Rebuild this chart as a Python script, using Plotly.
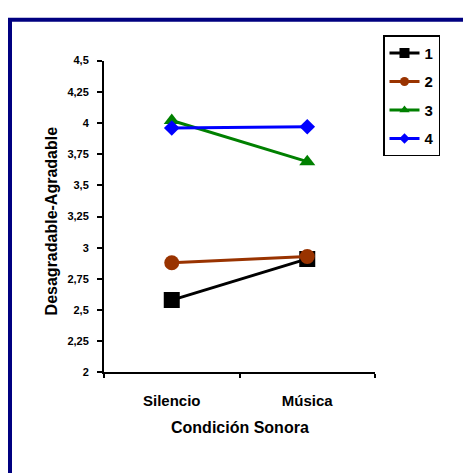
import plotly.graph_objects as go

W, H = 463, 473

categories = ["Silencio", "Música"]
series_names = ["1", "2", "3", "4"]
s1 = [2.58, 2.91]
s2 = [2.88, 2.93]
s3 = [4.02, 3.69]
s4 = [3.96, 3.97]
y_tickvals = [2, 2.25, 2.5, 2.75, 3, 3.25, 3.5, 3.75, 4, 4.25, 4.5]
y_ticktext = ["2", "2,25", "2,5", "2,75", "3", "3,25", "3,5", "3,75", "4", "4,25", "4,5"]

colors = ["#000000", "#993300", "#008000", "#0000FF"]
symbols = ["square", "circle", "triangle-up", "diamond"]
sizes = [16, 15, 14, 12]
legend_sizes = [10, 9, 9, 8]
values = [s1, s2, s3, s4]

FONT = "Liberation Sans, Arial, sans-serif"

fig = go.Figure()
for name, vals, c, sym, sz in zip(series_names, values, colors, symbols, sizes):
    fig.add_trace(go.Scatter(
        x=categories, y=vals, mode="lines+markers", name=name,
        line=dict(color=c, width=3),
        marker=dict(symbol=sym, size=sz, color=c),
        showlegend=False, hoverinfo="skip",
    ))
# legend entries (smaller markers like the original legend)
for name, c, sym, sz in zip(series_names, colors, symbols, legend_sizes):
    fig.add_trace(go.Scatter(
        x=[None], y=[None], mode="lines+markers", name=name,
        line=dict(color=c, width=3),
        marker=dict(symbol=sym, size=sz, color=c),
        legendgroup=name, showlegend=True,
    ))

def px(xp):
    return xp / W

def py(yp):
    return 1 - yp / H

fig.update_layout(
    width=W, height=H, autosize=False,
    margin=dict(l=0, r=0, t=0, b=0),
    paper_bgcolor="white", plot_bgcolor="white",
    font=dict(family=FONT, color="black"),
    xaxis=dict(
        type="category", range=[-0.5, 1.5],
        domain=[px(104), px(375)],
        showline=True, linecolor="black", linewidth=2,
        ticks="outside", tickson="boundaries", ticklen=4, tickwidth=2, tickcolor="black",
        ticklabelstandoff=14,
        showgrid=False, zeroline=False,
        tickfont=dict(family=FONT, size=15, color="black", weight="bold"),
        anchor="y",
    ),
    yaxis=dict(
        range=[2, 4.5], domain=[py(376), py(56)],
        tickvals=y_tickvals, ticktext=y_ticktext,
        showline=True, linecolor="black", linewidth=2,
        ticks="outside", ticklen=5, tickwidth=2, tickcolor="black",
        ticklabelstandoff=6,
        showgrid=False, zeroline=False,
        tickfont=dict(family=FONT, size=11, color="black", weight="bold"),
        anchor="x",
    ),
    legend=dict(
        x=px(383), y=py(30), xanchor="left", yanchor="top",
        bordercolor="black", borderwidth=1.5, bgcolor="white",
        font=dict(family=FONT, size=15, color="black", weight="bold"),
        tracegroupgap=6, traceorder="grouped", itemwidth=30,
    ),
    showlegend=True,
)

fig.add_annotation(
    x=px(240), y=py(432), xref="paper", yref="paper",
    text="<b>Condición Sonora</b>", showarrow=False,
    font=dict(family=FONT, size=16, color="black"),
    xanchor="center", yanchor="middle",
)
fig.add_annotation(
    x=px(51), y=py(221), xref="paper", yref="paper",
    text="<b>Desagradable-Agradable</b>", showarrow=False, textangle=-90,
    font=dict(family=FONT, size=16, color="black"),
    xanchor="center", yanchor="middle",
)

# outer frame (navy) partly cut by the window
fig.add_shape(
    type="rect", xref="paper", yref="paper",
    x0=px(10), x1=1.2, y0=-0.2, y1=py(14),
    line=dict(color="#000080", width=4), fillcolor="rgba(0,0,0,0)",
    layer="above",
)

fig.write_html("out.html")
